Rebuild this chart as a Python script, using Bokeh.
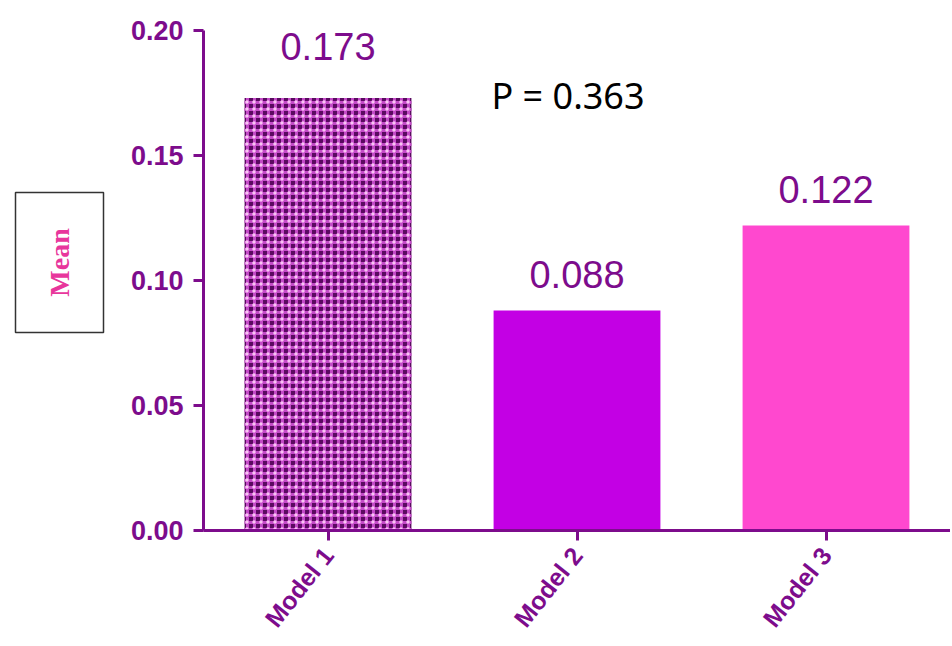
import math
from bokeh.plotting import figure
from bokeh.layouts import row
from bokeh.models import (ColumnDataSource, CDSView, IndexFilter, Label, FactorRange, Range1d,
                          FixedTicker, NumeralTickFormatter)
from bokeh.core.properties import value
from bokeh.embed import file_html
from bokeh.resources import INLINE

categories = ["Model 1", "Model 2", "Model 3"]
means = [0.173, 0.088, 0.122]
y_ticks = [0.0, 0.05, 0.10, 0.15, 0.20]
p_text = "P = 0.363"
y_label = "Mean"

# styles
bar_colors = ["#5a0a60", "#c300e4", "#ff48cf"]
label_offsets = [-52, -36, -36]
purple = "#7d0c8c"

src = ColumnDataSource(dict(
    x=categories, top=means, color=bar_colors,
    label=[f"{v:.3f}" for v in means], yoff=label_offsets,
))
first_only = CDSView(filter=IndexFilter([0]))

y_range = Range1d(0, 0.212)

# left panel with boxed axis title (shares the value range so frames line up)
LW = 110
lp = figure(width=LW, height=644, output_backend="svg", toolbar_location=None,
            x_range=Range1d(0, LW), y_range=y_range,
            min_border=0, x_axis_type=None, y_axis_type=None)
lp.outline_line_color = None
lp.xgrid.grid_line_color = None
lp.ygrid.grid_line_color = None
lp.quad(left=15, right=103, top=0.1352, bottom=0.0792, fill_color="white",
        line_color="#333333", line_width=1.5)
lp.text(x=59, y=0.1072, text=[y_label], angle=math.pi / 2, text_align="center",
        text_baseline="middle", text_font=value("Liberation Serif"),
        text_font_style="bold", text_font_size="28px", text_color="#e8369c")

p = figure(width=950 - LW, height=644, output_backend="svg", toolbar_location=None,
           x_range=FactorRange(factors=categories), y_range=y_range,
           min_border_left=203 - LW, min_border_right=0, min_border_top=0, min_border_bottom=114)
p.outline_line_color = None
p.xgrid.grid_line_color = None
p.ygrid.grid_line_color = None
p.background_fill_color = "white"

p.vbar(x="x", top="top", width=0.67, source=src, fill_color="color", line_color=None)
# checker texture on the first bar
p.vbar(x="x", top="top", width=0.67, source=src, view=first_only, fill_alpha=0, line_color=None,
       hatch_pattern="+", hatch_color="#c44ac8", hatch_scale=7, hatch_weight=3)
p.vbar(x="x", top="top", width=0.67, source=src, view=first_only, fill_alpha=0, line_color=None,
       hatch_pattern=".", hatch_color="#f9c4f4", hatch_scale=7, hatch_weight=3)

p.text(x="x", y="top", text="label", source=src, text_align="center",
       text_baseline="alphabetic", y_offset="yoff", text_font=value("Liberation Sans"),
       text_font_size="38px", text_color=purple)

# y axis
ya = p.yaxis[0]
ya.ticker = FixedTicker(ticks=y_ticks)
ya.formatter = NumeralTickFormatter(format="0.00")
ya.bounds = (0, 0.2)
ya.axis_line_color = purple
ya.axis_line_width = 3
ya.major_tick_line_color = purple
ya.major_tick_line_width = 3
ya.major_tick_in = 0
ya.major_tick_out = 10
ya.minor_tick_line_color = None
ya.major_label_text_font = "Liberation Sans"
ya.major_label_text_font_style = "bold"
ya.major_label_text_font_size = "27px"
ya.major_label_text_color = purple
ya.major_label_standoff = 10

xa = p.xaxis[0]
xa.axis_line_color = purple
xa.axis_line_width = 3
xa.major_tick_line_color = purple
xa.major_tick_line_width = 3
xa.major_tick_in = 0
xa.major_tick_out = 10
xa.minor_tick_line_color = None
xa.major_label_orientation = 0.9
xa.major_label_text_font = "Liberation Sans"
xa.major_label_text_font_style = "bold"
xa.major_label_text_font_size = "25px"
xa.major_label_text_color = purple
xa.major_label_standoff = 10

p.add_layout(Label(x=1.5, y=0.174, text=p_text, text_align="center", text_baseline="middle",
                   x_offset=-9, text_font="Noto Sans", text_font_size="36px", text_color="black"))

open("out.html", "w").write(file_html(row(lp, p), INLINE))
